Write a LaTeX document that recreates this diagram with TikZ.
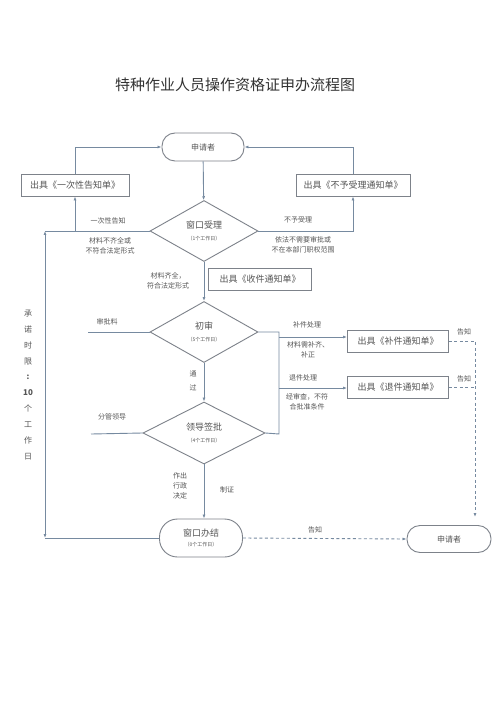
\documentclass[tikz,border=0pt]{standalone}
\usepackage{fontspec}
\setmainfont{Noto Sans CJK SC}
\usetikzlibrary{shapes.geometric,arrows.meta}
\definecolor{lineblue}{RGB}{118,138,160}
\definecolor{boxgray}{RGB}{125,130,138}
\definecolor{txtgray}{RGB}{85,85,85}
\tikzset{
  flow/.style={draw=lineblue,line width=0.9pt},
  arr/.style={flow,-{Latex[length=4pt,width=3pt]}},
  darr/.style={arr,dash pattern=on 3pt off 2.5pt},
  notebox/.style={draw=boxgray,line width=0.9pt,minimum height=22pt,inner sep=0pt,
    text=txtgray,font=\fontsize{9}{10}\selectfont},
  termbox/.style={draw=boxgray,line width=0.9pt,rounded corners=13pt,inner sep=0pt,
    text=txtgray,align=center,font=\fontsize{8}{10}\selectfont},
  decide/.style={diamond,draw=boxgray,line width=0.9pt,inner sep=1pt,align=center,
    text=txtgray,font=\fontsize{9}{12}\selectfont},
  lbl/.style={text=txtgray,align=center,inner sep=0pt,font=\fontsize{7}{10}\selectfont}
}
\newcommand{\days}[1]{{\fontsize{5}{6}\selectfont（#1个工作日）}}
\begin{document}
\begin{tikzpicture}[x=1pt,y=-1pt]
\useasboundingbox[fill=white] (0,0) rectangle (500,708);
\node[text=black!80,font=\fontsize{15}{18}\selectfont] (title) at (235,85) {特种作业人员操作资格证申办流程图};
% nodes
\node[termbox,minimum width=82pt,minimum height=28pt] (apply) at (203,147) {申请者};
\node[notebox,minimum width=108pt] (once) at (75,185) {出具《一次性告知单》};
\node[notebox,minimum width=114pt] (reject) at (353,185) {出具《不予受理通知单》};
\node[decide,minimum width=108pt,minimum height=61pt] (accept) at (204,231) {窗口受理\\\days{1}};
\node[notebox,minimum width=103pt] (receipt) at (260,279) {出具《收件通知单》};
\node[decide,minimum width=108pt,minimum height=61pt] (first) at (204,332) {初审\\\days{5}};
\node[notebox,minimum width=101pt] (supp) at (398,341) {出具《补件通知单》};
\node[notebox,minimum width=101pt] (retn) at (398,387) {出具《退件通知单》};
\node[decide,minimum width=122pt,minimum height=62pt] (sign) at (204,433) {领导签批\\\days{4}};
\node[termbox,minimum width=83pt,minimum height=38pt,rounded corners=18pt,font=\fontsize{9}{10}\selectfont] (done) at (201,538) {窗口办结\\\days{0}};
\node[termbox,minimum width=84pt,minimum height=27pt] (apply2) at (449,539) {申请者};
\coordinate (limtop) at (45,231);
\coordinate (limbot) at (45,538);
\coordinate (forktop) at (279,332);
\coordinate (forkbot) at (279,434);
\coordinate (matin) at (88,332);
\coordinate (leadin) at (91,434);
\coordinate (notify) at (475,517);
\coordinate (suppin) at ([yshift=4pt]supp.west);
\coordinate (retnin) at ([yshift=-1pt]retn.west);
% connectors
\draw[arr] (apply) -- (accept);
\draw[arr] (once.north) |- (apply.west);
\draw[arr] (reject.north) |- (apply.east);
\draw[arr] (accept.west) -| (once.south);
\draw[arr] (accept.east) -| (reject.south);
\draw[flow] (accept.west) -- (limtop);
\draw[arr] (accept.south) -- (first.north);
\draw[arr] (first.south) -- (sign.north);
\draw[flow] (matin) -- (first.west);
\draw[flow] (leadin) -- (sign.west);
\draw[flow] (first.east) -- (forktop) -- (forkbot) -- (sign.east);
\draw[arr] (forktop |- suppin) -- (suppin);
\draw[arr] (forktop |- retnin) -- (retnin);
\draw[darr] (supp.east) -| (notify);
\draw[flow,dash pattern=on 3pt off 2.5pt] (retn.east) -- (retn.east -| notify);
\draw[arr] (sign.south) -- (sign.south |- done.north);
\draw[darr] (done.east) -- (apply2.west);
\draw[flow] (done.west) -- (limbot);
\draw[flow,{Latex[length=4pt,width=3pt]}-{Latex[length=4pt,width=3pt]}] (limtop) -- (limbot);
% labels
\node[lbl] (l1) at (108,221) {一次性告知};
\node[lbl] (l2) at (110,246) {材料不齐全或\\不符合法定形式};
\node[lbl] (l3) at (298,220) {不予受理};
\node[lbl] (l4) at (303,245) {依法不需要审批或\\不在本部门职权范围};
\node[lbl] (l5) at (168,281) {材料齐全，\\符合法定形式};
\node[lbl] (l6) at (107,322) {审批料};
\node[lbl,font=\fontsize{7}{14}\selectfont] (l7) at (193,381) {通\\过};
\node[lbl] (l8) at (307,325) {补件处理};
\node[lbl] (l9) at (308,350) {材料需补齐、\\补正};
\node[lbl] (l10) at (303,378) {退件处理};
\node[lbl] (l11) at (307,402) {经审查，不符\\合批准条件};
\node[lbl] (l12) at (464,332) {告知};
\node[lbl] (l13) at (464,379) {告知};
\node[lbl] (l14) at (112,417) {分管领导};
\node[lbl] (l15) at (180,486) {作出\\行政\\决定};
\node[lbl] (l16) at (227,490) {制证};
\node[lbl] (l17) at (315,530) {告知};
\foreach \c [count=\i] in {承,诺,时,限,\textbf{:},\textbf{10},个,工,作,日} {
\node[lbl,font=\fontsize{8}{10}\selectfont] (lim\i) at (28,{314+15.8*(\i-1)}) {\c};
}
\end{tikzpicture}
\end{document}
